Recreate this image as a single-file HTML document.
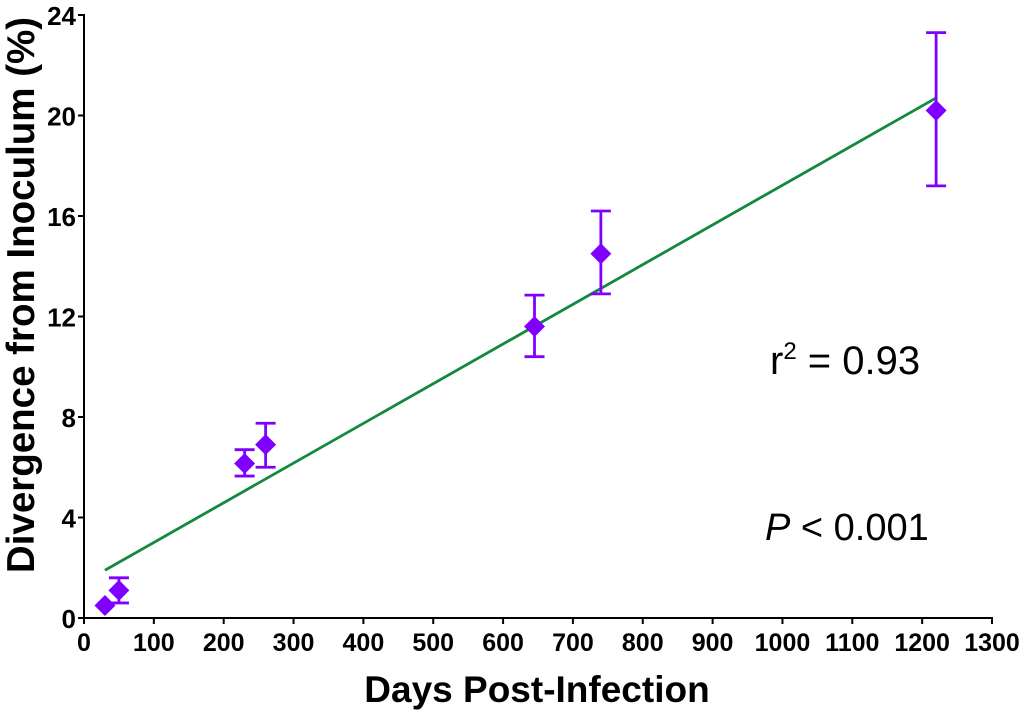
<!DOCTYPE html>
<html><head><meta charset="utf-8"><style>
body{margin:0;background:#fff;}
svg{display:block;font-family:"Liberation Sans",Arial,sans-serif;}
</style></head><body>
<svg id="chart" width="1024" height="712">
<g id="axes"></g><g id="marks"></g>
<text x="537" y="702" text-anchor="middle" font-size="37" font-weight="bold">Days Post-Infection</text>
<text transform="translate(34,295) rotate(-90)" text-anchor="middle" font-size="38.5" font-weight="bold">Divergence from Inoculum (%)</text>
<text x="770" y="374" font-size="40">r<tspan dy="-15" font-size="24">2</tspan><tspan dy="15"> = 0.93</tspan></text>
<text x="765" y="540" font-size="38"><tspan font-style="italic">P</tspan> &lt; 0.001</text>
</svg>
<script>
const days=[30,50,230,260,645,740,1220];
const divergence=[0.5,1.1,6.15,6.9,11.6,14.5,20.2];
const errLow=[null,0.6,5.65,6.0,10.4,12.9,17.2];
const errHigh=[null,1.6,6.7,7.75,12.85,16.2,23.3];
const fitX=[30,1220];
const fitY=[1.9,20.7];
const xTicks=[0,100,200,300,400,500,600,700,800,900,1000,1100,1200,1300];
const yTicks=[0,4,8,12,16,20,24];

const X0=84,X1=992,Y0=618,Y1=15;
const sx=v=>X0+(v/1300)*(X1-X0);
const sy=v=>Y0-(v/24)*(Y0-Y1);
const NS="http://www.w3.org/2000/svg";
function mk(tag,attrs,parent){const e=document.createElementNS(NS,tag);for(const k in attrs)e.setAttribute(k,attrs[k]);parent.appendChild(e);return e;}
const axes=document.getElementById('axes'),marks=document.getElementById('marks');

let xa=mk('line',{x1:X0,y1:Y0,x2:X1+1,y2:Y0,stroke:'#000','stroke-width':2},axes);


let ya=mk('line',{x1:X0,y1:Y0,x2:X0,y2:Y1-1,stroke:'#000','stroke-width':2},axes);


xTicks.forEach(t=>{
  mk('line',{x1:sx(t),y1:Y0,x2:sx(t),y2:Y0+6,stroke:'#000','stroke-width':2},axes);
  const tx=mk('text',{x:sx(t),y:Y0+33,'text-anchor':'middle','font-size':25,'font-weight':'bold'},axes);
  tx.textContent=t;
  
  
});
yTicks.forEach(t=>{
  mk('line',{x1:X0-6,y1:sy(t),x2:X0,y2:sy(t),stroke:'#000','stroke-width':2},axes);
  const tx=mk('text',{x:X0-8,y:sy(t)+10,'text-anchor':'end','font-size':26,'font-weight':'bold'},axes);
  tx.textContent=t;
  
  
});
const fit=mk('line',{x1:sx(fitX[0]),y1:sy(fitY[0]),x2:sx(fitX[1]),y2:sy(fitY[1]),stroke:'#118a3e','stroke-width':2.8},marks);


const C='#8000ff';
days.forEach((d,i)=>{
  const x=sx(d),y=sy(divergence[i]);
  if(errLow[i]!==null){
    const g=mk('g',{stroke:C,'stroke-width':2.8},marks);
    
    
    mk('line',{x1:x,y1:sy(errLow[i]),x2:x,y2:sy(errHigh[i])},g);
    mk('line',{x1:x-10,y1:sy(errLow[i]),x2:x+10,y2:sy(errLow[i])},g);
    mk('line',{x1:x-10,y1:sy(errHigh[i]),x2:x+10,y2:sy(errHigh[i])},g);
  }
  const p=mk('polygon',{points:`${x},${y-10.5} ${x+10.5},${y} ${x},${y+10.5} ${x-10.5},${y}`,fill:C},marks);
  
  
});
</script>
</body></html>
